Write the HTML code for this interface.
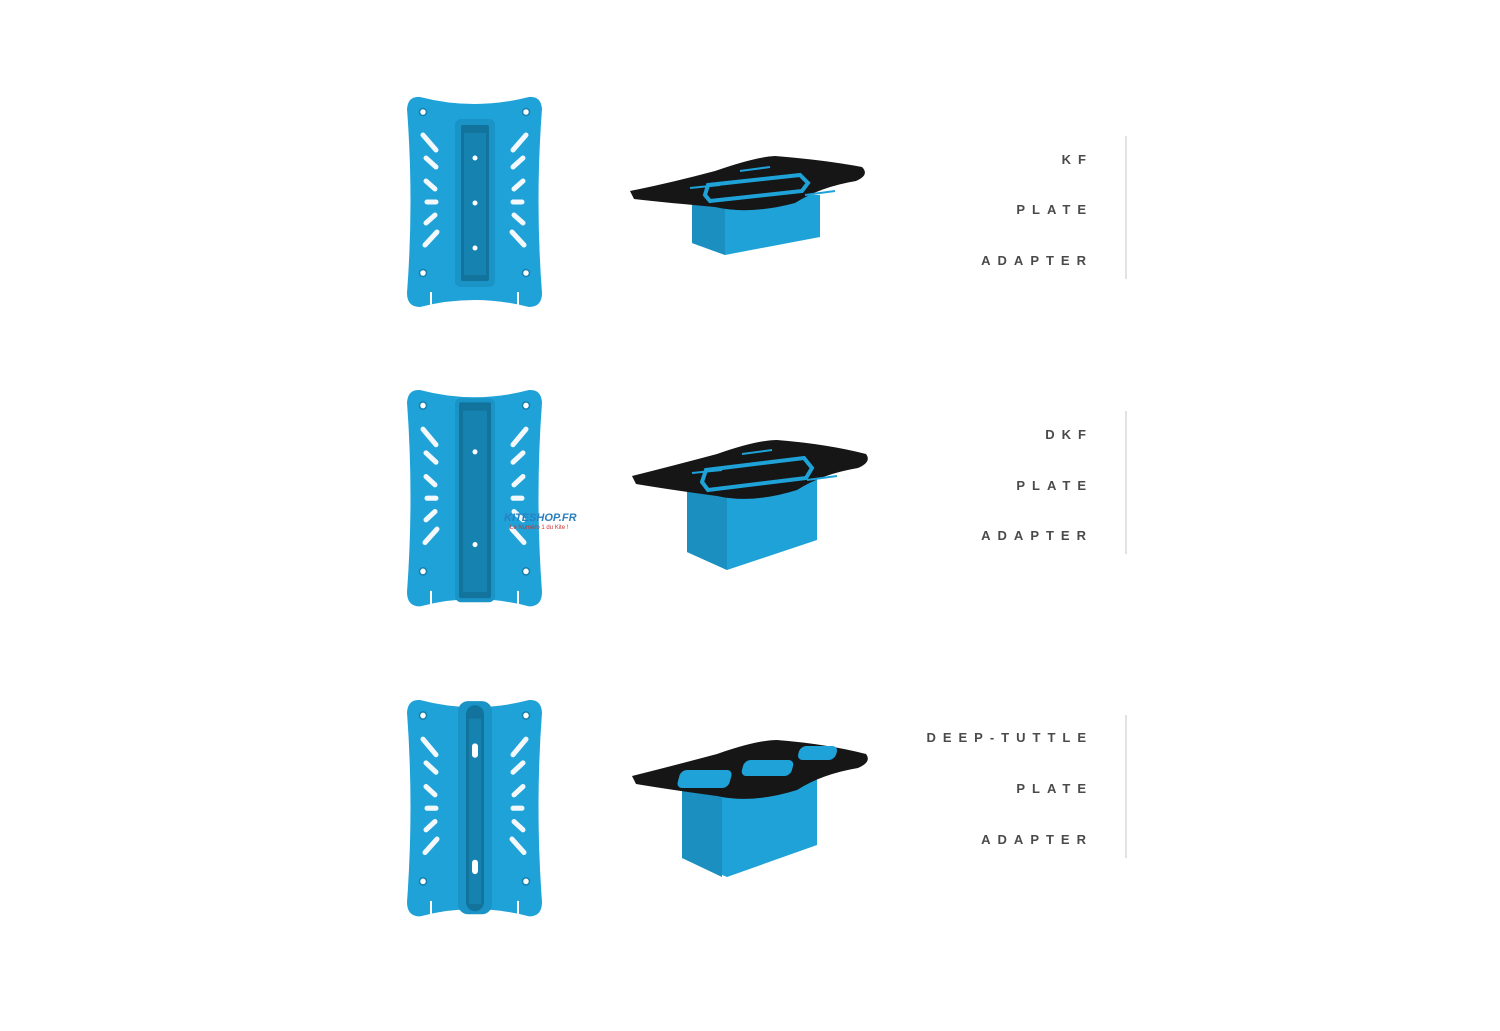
<!DOCTYPE html>
<html><head><meta charset="utf-8"><style>
html,body{margin:0;padding:0;background:#fff;width:1500px;height:1031px;overflow:hidden;position:relative;font-family:"Liberation Sans",sans-serif}
.t{position:absolute;right:407px;font-size:13px;font-weight:bold;letter-spacing:7px;color:#4a4a4a;line-height:13px;white-space:nowrap}
.vl{position:absolute;left:1125px;width:2px;background:#e2e2e2}
</style></head><body>
<svg width="1500" height="1031" style="position:absolute;left:0;top:0">
<defs>
<g id="plate">
<path d="M14,2 Q68,16 123,2 Q135,1 136,14 Q129,106 136,198 Q136,212 123,212 Q68,198 14,212 Q1,212 1,198 Q8,106 1,14 Q2,1 14,2 Z" fill="#1ea2d8"/>
<g fill="#fff" stroke="#1580ad" stroke-width="1.5">
<circle cx="17" cy="17" r="3.5"/><circle cx="120" cy="17" r="3.5"/><circle cx="17" cy="178" r="3.5"/><circle cx="120" cy="178" r="3.5"/>
</g>
<g stroke="#f2f8fb" stroke-width="5" stroke-linecap="round">
<line x1="17" y1="40" x2="30" y2="55"/><line x1="20" y1="63" x2="30" y2="72"/><line x1="20" y1="86" x2="29" y2="94"/><line x1="21" y1="107" x2="30" y2="107"/><line x1="20" y1="128" x2="29" y2="120"/><line x1="19" y1="150" x2="31" y2="137"/>
<line x1="120" y1="40" x2="107" y2="55"/><line x1="117" y1="63" x2="107" y2="72"/><line x1="117" y1="86" x2="108" y2="94"/><line x1="116" y1="107" x2="107" y2="107"/><line x1="117" y1="128" x2="108" y2="120"/><line x1="118" y1="150" x2="106" y2="137"/>
</g>
<g stroke="#fff" stroke-width="2"><line x1="25" y1="213" x2="25" y2="197"/><line x1="112" y1="213" x2="112" y2="197"/></g>
</g>
</defs>
<g transform="translate(406,95)"><use href="#plate"/>
<rect x="49" y="24" width="40" height="168" rx="6" fill="#1a93c6"/><rect x="55" y="30" width="28" height="156" rx="2" fill="#12739c"/><rect x="58" y="38" width="22" height="142" fill="#1682b0"/>
<g fill="#fff"><circle cx="69" cy="63" r="2.5"/><circle cx="69" cy="108" r="2.5"/><circle cx="69" cy="153" r="2.5"/></g></g>
<g transform="translate(406,388) scale(1,1.03)"><use href="#plate"/>
<rect x="49" y="10" width="40" height="198" rx="6" fill="#1a93c6"/><rect x="53" y="14" width="32" height="190" rx="2" fill="#12739c"/><rect x="57" y="22" width="24" height="176" fill="#1682b0"/>
<g fill="#fff"><circle cx="69" cy="62" r="2.5"/><circle cx="69" cy="152" r="2.5"/></g></g>
<g transform="translate(406,698) scale(1,1.03)"><use href="#plate"/>
<rect x="52" y="3" width="34" height="207" rx="10" fill="#1a93c6"/><rect x="60" y="7" width="18" height="200" rx="9" fill="#12739c"/><rect x="63" y="20" width="12" height="180" fill="#1682b0"/>
<g fill="#fff"><rect x="66" y="44" width="6" height="14" rx="3"/><rect x="66" y="157" width="6" height="14" rx="3"/></g></g>
<g transform="translate(630,155)">
<path d="M62,40 L190,40 L190,82 L95,100 L62,88 Z" fill="#1ea2d8"/><path d="M62,40 L95,50 L95,100 L62,88 Z" fill="#1a8fc0"/>
<path d="M0,36 Q40,28 85,16 Q125,2 145,1 Q195,5 232,12 Q240,20 226,26 Q190,32 165,48 Q120,60 85,52 Q40,48 4,44 Z" fill="#161616"/>
<g fill="none" stroke="#1ea2d8" stroke-width="4"><path d="M75,40 L78,30 L170,20 L178,28 L172,36 L80,46 Z"/></g>
<g stroke="#1ea2d8" stroke-width="2"><line x1="60" y1="33" x2="90" y2="30"/><line x1="175" y1="40" x2="205" y2="36"/><line x1="110" y1="16" x2="140" y2="12"/></g>
</g>
<g transform="translate(632,440)">
<path d="M55,42 L185,38 L185,100 L95,130 L55,112 Z" fill="#1ea2d8"/><path d="M55,42 L95,52 L95,130 L55,112 Z" fill="#1a8fc0"/>
<path d="M0,36 Q40,26 85,14 Q125,0 145,0 Q195,4 234,14 Q240,22 226,28 Q190,34 165,50 Q120,64 85,56 Q40,50 4,44 Z" fill="#161616"/>
<g fill="none" stroke="#1ea2d8" stroke-width="4"><path d="M70,42 L74,30 L172,18 L180,28 L174,38 L76,50 Z"/></g>
<g stroke="#1ea2d8" stroke-width="2"><line x1="60" y1="33" x2="90" y2="30"/><line x1="175" y1="40" x2="205" y2="36"/><line x1="110" y1="14" x2="140" y2="10"/></g>
</g>
<g transform="translate(632,740)">
<path d="M50,40 L185,36 L185,105 L95,137 L50,118 Z" fill="#1ea2d8"/><path d="M50,40 L90,52 L90,137 L50,118 Z" fill="#1a8fc0"/>
<path d="M0,36 Q40,26 85,14 Q125,0 145,0 Q195,4 234,14 Q240,22 226,28 Q190,34 165,50 Q120,64 85,56 Q40,50 4,44 Z" fill="#161616"/>
<g fill="#1ea2d8"><rect x="47" y="30" width="52" height="18" rx="6" transform="skewX(-15) translate(10,0)"/><rect x="110" y="20" width="50" height="16" rx="6" transform="skewX(-15) translate(8,0)"/><rect x="165" y="6" width="38" height="14" rx="6" transform="skewX(-15) translate(5,0)"/></g>
</g>
<text x="504" y="521" font-family="Liberation Sans" font-size="11" font-style="italic" font-weight="bold" fill="#2a7fc0">KITESHOP.FR</text>
<text x="510" y="529" font-family="Liberation Sans" font-size="6" fill="#c33">Le Numéro 1 du Kite !</text>
</svg>
<div class="vl" style="top:136px;height:143px"></div>
<div class="vl" style="top:411px;height:143px"></div>
<div class="vl" style="top:715px;height:143px"></div>
<div class="t" style="top:153px">KF</div>
<div class="t" style="top:203px">PLATE</div>
<div class="t" style="top:254px">ADAPTER</div>
<div class="t" style="top:428px">DKF</div>
<div class="t" style="top:479px">PLATE</div>
<div class="t" style="top:529px">ADAPTER</div>
<div class="t" style="top:731px">DEEP-TUTTLE</div>
<div class="t" style="top:782px">PLATE</div>
<div class="t" style="top:833px">ADAPTER</div>
</body></html>
